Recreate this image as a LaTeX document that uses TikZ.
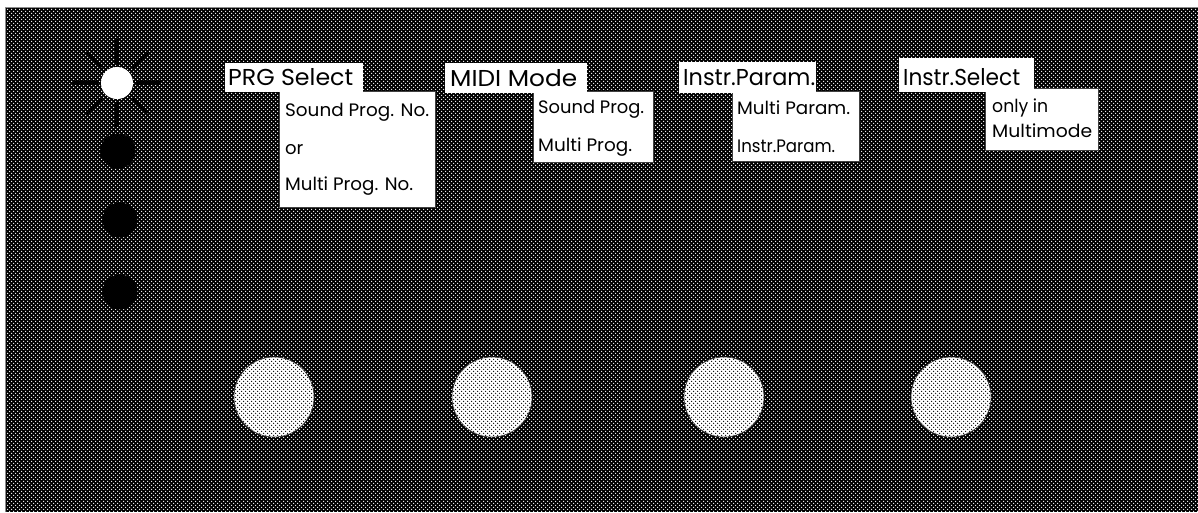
\documentclass[tikz,border=0pt]{standalone}
\usepackage{fontspec}
\setmainfont{Poppins}
\usetikzlibrary{patterns.meta}
\newcommand{\fitw}[2]{\resizebox{#1}{\height}{#2}}
\begin{document}
\begin{tikzpicture}[x=1pt,y=-1pt,
  panelpatA/.style={pattern={Dots[distance=4pt,radius=0.85pt]},pattern color=white},
  panelpatB/.style={pattern={Dots[distance=4pt,radius=0.85pt,xshift=2pt,yshift=2pt]},pattern color=white},
  knobpatA/.style={pattern={Dots[distance=4pt,radius=0.85pt]},pattern color=black},
  knobpatB/.style={pattern={Dots[distance=4pt,radius=0.85pt,xshift=2pt,yshift=2pt]},pattern color=black},
  headbox/.style={fill=white,inner sep=0pt,outer sep=0pt},
  subbox/.style={fill=white,draw=black!75,line width=0.8pt,inner sep=0pt,outer sep=0pt},
  headtxt/.style={anchor=base west,inner sep=0pt,font=\fontsize{23}{27}\selectfont},
  subtxt/.style={anchor=base west,inner sep=0pt,font=\fontsize{18}{21}\selectfont},
  ray/.style={line width=4pt},
  dray/.style={line width=3pt},
  lamp/.style={circle,inner sep=0pt,minimum size=35pt,fill=black},
  knob/.style={circle,inner sep=0pt,minimum size=80pt,fill=white,draw=black!80,line width=0.6pt}
]
\useasboundingbox (0,0) rectangle (1198,512);
% panel
\fill[black] (5,7) rectangle (1198,512);
\fill[panelpatA] (5,7) rectangle (1198,512);
\fill[panelpatB] (5,7) rectangle (1198,512);
\draw[black!45,line width=1pt] (5.5,512) -- (5.5,7.5) -- (1198,7.5);

% lit LED with rays
\node[circle,fill=white,inner sep=0pt,minimum size=32pt] (led) at (117,83) {};
\foreach \a in {0,90,180,270}
  \draw[ray] (led.center) ++(\a:19) -- ++(\a:25);
\foreach \a in {45,135,225,315}
  \draw[dray] (led.center) ++(\a:22) -- ++(\a:21);

% dark LEDs
\node[lamp] (d1) at (118,151) {};
\node[lamp] (d2) at (120,220) {};
\node[lamp] (d3) at (120,292) {};

% knobs
\foreach \n/\x in {k1/274,k2/492,k3/724,k4/951}{
  \node[knob] (\n) at (\x,397) {};
  \fill[knobpatA] (\n.center) circle (39.5);
  \fill[knobpatB] (\n.center) circle (39.5);
}

% PRG Select
\node[subbox,minimum width=156pt,minimum height=116pt] (s1) at (357,149) {};
\node[headbox,minimum width=138pt,minimum height=29pt] (h1) at (294,77.5) {};
\node[headtxt] (h1t) at (228,85) {\fitw{125pt}{PRG Select}};
\node[subtxt] (s1a) at (285,116) {\fitw{144pt}{Sound Prog. No.}};
\node[subtxt] (s1b) at (285,154) {or};
\node[subtxt] (s1c) at (285,190) {\fitw{128pt}{Multi Prog. No.}};

% MIDI Mode
\node[subbox,minimum width=120pt,minimum height=71pt] (s2) at (593,126.5) {};
\node[headbox,minimum width=142pt,minimum height=30pt] (h2) at (516,78) {};
\node[headtxt] (h2t) at (450,86) {\fitw{127pt}{MIDI Mode}};
\node[subtxt] (s2a) at (538,113) {\fitw{106pt}{Sound Prog.}};
\node[subtxt] (s2b) at (538,151) {\fitw{94pt}{Multi Prog.}};

% Instr.Param.
\node[subbox,minimum width=127pt,minimum height=70pt] (s3) at (795.5,126) {};
\node[headbox,minimum width=137pt,minimum height=31pt] (h3) at (747.5,77.5) {};
\node[headtxt] (h3t) at (683,85) {\fitw{132pt}{Instr.Param.}};
\node[subtxt] (s3a) at (737,114) {\fitw{113pt}{Multi Param.}};
\node[subtxt] (s3b) at (737,152) {\fitw{98pt}{Instr.Param.}};

% Instr.Select
\node[subbox,minimum width=113pt,minimum height=62pt] (s4) at (1041.5,119) {};
\node[headbox,minimum width=135pt,minimum height=34pt] (h4) at (966.5,75) {};
\node[headtxt] (h4t) at (903,85) {\fitw{117pt}{Instr.Select}};
\node[subtxt] (s4a) at (992,112) {\fitw{56pt}{only in}};
\node[subtxt] (s4b) at (992,137) {\fitw{100pt}{Multimode}};
\end{tikzpicture}
\end{document}
